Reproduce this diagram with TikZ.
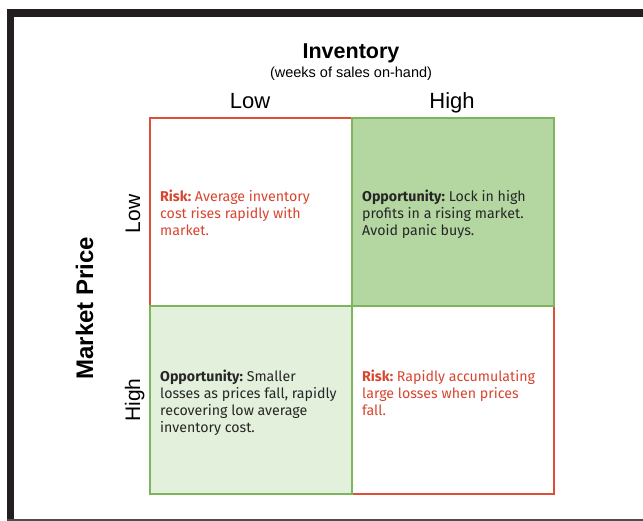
\documentclass[tikz,border=0pt]{standalone}
\usepackage{fontspec}
\setmainfont{Liberation Sans}
\newfontfamily\cellfont{Fira Sans}
\usetikzlibrary{positioning}
\definecolor{riskRed}{HTML}{DE4F3A}
\definecolor{riskText}{HTML}{D8452F}
\definecolor{oppGreen}{HTML}{7DB55C}
\definecolor{oppDark}{HTML}{B4D7A2}
\definecolor{oppLight}{HTML}{E3F0DC}
\definecolor{frameBlack}{HTML}{231F20}
\frenchspacing

\begin{document}
\begin{tikzpicture}
[x=1pt, y=-1pt,
 cellDecorate/.style={shape=rectangle, line width=2.4pt, inner sep=0pt, anchor=north west, minimum width=202pt, minimum height=188pt},
 riskCell/.style={cellDecorate, draw=riskRed, fill=white},
 oppCell/.style={cellDecorate, draw=oppGreen},
 noteDecorate/.style={inner sep=0pt, align=left, font=\cellfont\fontsize{14.2}{16.8}\selectfont},
 axisDecorate/.style={inner sep=0pt, anchor=base, font=\fontsize{22}{24}\selectfont}]

 \useasboundingbox (0,0) rectangle (643,521);

 % frame round the chart
 \fill[frameBlack] (7,9) rectangle (643,17);
 \fill[frameBlack] (7,9) rectangle (14,521);
 \fill[frameBlack!80] (7,519) rectangle (643,521);

 % the four quadrants, red ones first so the green edges lie on top
 \node (tl) at (149,117) [riskCell] {};
 \node (br) at (351,305) [riskCell] {};
 \node (tr) at (351,117) [oppCell, fill=oppDark] {};
 \node (bl) at (149,305) [oppCell, fill=oppLight] {};

 % headings
 \node (inv) at (351,59) [axisDecorate, font=\bfseries\fontsize{21.5}{24}\selectfont] {Inventory};
 \node (invSub) at (351,78) [axisDecorate, font=\fontsize{14.5}{16}\selectfont] {(weeks of sales on-hand)};
 \node (invLow) at (250,109) [axisDecorate] {Low};
 \node (invHigh) at (452,109) [axisDecorate] {High};

 \node (price) at (93,308) [axisDecorate, rotate=90, font=\bfseries\fontsize{24}{26}\selectfont] {Market Price};
 \node (priceLow) at (140,214) [axisDecorate, rotate=90, font=\fontsize{21}{24}\selectfont] {Low};
 \node (priceHigh) at (140,400) [axisDecorate, rotate=90, font=\fontsize{21}{24}\selectfont] {High};

 % notes in the quadrants
 \node (tlNote) [noteDecorate, text=riskText, below right=73pt and 11pt of tl.north west]
   {\textbf{Risk:} Average inventory\\cost rises rapidly with\\market.};
 \node (trNote) [noteDecorate, text=black!85, below right=73pt and 11pt of tr.north west]
   {\textbf{Opportunity:} Lock in high\\profits in a rising market.\\Avoid panic buys.};
 \node (blNote) [noteDecorate, text=black!85, below right=65pt and 11pt of bl.north west]
   {\textbf{Opportunity:} Smaller\\losses as prices fall, rapidly\\recovering low average\\inventory cost.};
 \node (brNote) [noteDecorate, text=riskText, below right=65pt and 11pt of br.north west]
   {\textbf{Risk:} Rapidly accumulating\\large losses when prices\\fall.};
\end{tikzpicture}
\end{document}
